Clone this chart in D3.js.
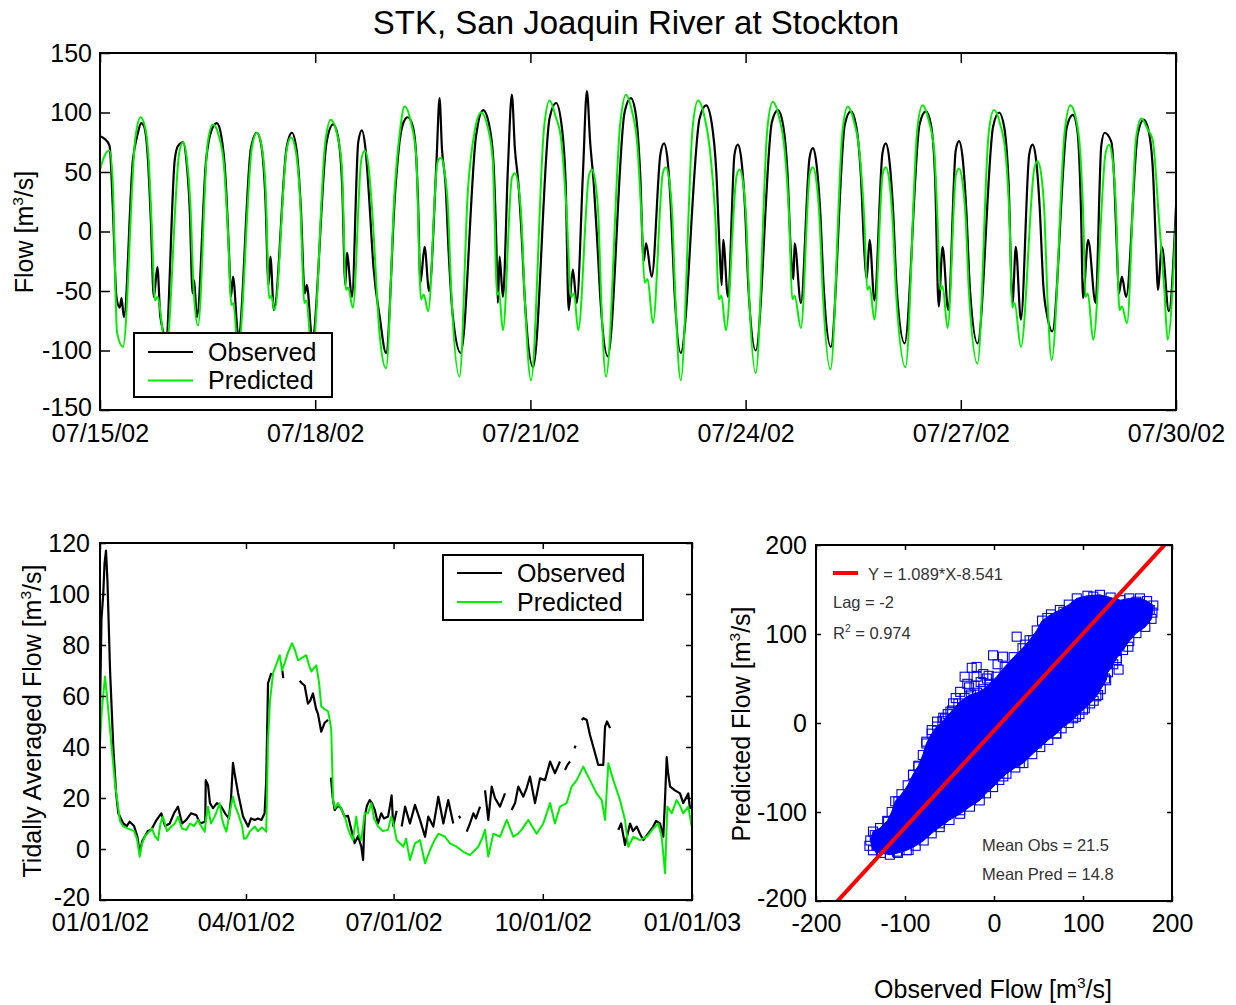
<!DOCTYPE html>
<html>
<head>
<meta charset="utf-8">
<script src="https://cdn.jsdelivr.net/npm/d3@7"></script>
<style>
  body { margin: 0; background: #fff; }
  svg text { font-family: "Liberation Sans", Arial, Helvetica, sans-serif; }
</style>
</head>
<body>
<svg id="fig" width="1236" height="1005"></svg>
<script>
// ---------------------------------------------------------------------------
// Data
// ---------------------------------------------------------------------------

// Hourly tidal flow, 07/15/02 - 07/30/02: [hours since 07/15/02 00:00, flow m3/s]
const observedTide = [
  [0,80],[1.5,78],[3.2,72],[4.3,20],[5.5,-55],[6.6,-64],[7.2,-56],[8.0,-72],
  [11.0,60],[12.6,82],[13.8,91],[14.8,88],[16.0,62],[17.0,10],[18.0,-55],[19.2,-30],[20.2,-72],[22.1,-88],
  [25.0,60],[26.1,72],[27.8,75],[28.9,60],[30.0,20],[31.0,-52],[31.5,-41],[32.4,-72],
  [35.5,60],[37.3,85],[39.1,91],[40.6,80],[42.0,45],[43.2,-20],[43.8,-55],[44.5,-38],[46.3,-88],
  [50.5,70],[52.5,83],[54.0,72],[55.3,30],[56.4,-45],[57.0,-21],[58.2,-66],
  [62.4,70],[64.2,83],[65.8,68],[67.2,20],[68.5,-52],[69.2,-45],[71.0,-90],
  [75.8,75],[78.0,90],[79.6,80],[81.0,40],[82.1,-45],[82.6,-18],[84.3,-55],
  [86.4,75],[87.6,85],[88.8,70],[90.0,30],[91.5,-30],[93.6,-72],[95.7,-102],
  [98.8,35],[100.3,77],[101.6,92],[103.0,96],[104.7,88],[105.8,63],[106.4,26],[107.2,-43],[108.6,-13],[110.1,-50],
  [112.6,60],[113.6,112],[114.4,70],[115.6,40],[116.7,-20],[118.0,-70],[120.7,-102],
  [125.8,80],[128.2,102],[130.0,92],[131.6,60],[132.6,-10],[133.1,-60],[133.7,-21],[134.8,-55],
  [136.5,55],[137.8,115],[138.8,70],[140.0,40],[141.0,0],[142.2,-60],[144.9,-114],
  [150.4,95],[152.6,108],[154.4,90],[155.8,40],[156.8,-66],[158.2,-32],[159.5,-60],
  [161.6,50],[162.9,118],[164.0,75],[165.2,40],[166.4,-10],[167.5,-60],[169.9,-105],
  [175.5,100],[177.6,112],[179.3,98],[180.7,50],[181.9,-25],[182.7,-10],[184.6,-38],
  [187.5,65],[188.7,74],[189.9,60],[191.0,20],[192.2,-50],[194.3,-102],
  [200.6,95],[202.8,106],[204.6,92],[206.2,50],[207.4,-20],[208.0,-45],[208.5,-7],[210.1,-55],
  [212.3,65],[213.4,73],[214.6,60],[215.8,20],[217.0,-50],[219.4,-100],
  [224.8,92],[226.8,102],[228.5,90],[230.0,50],[231.2,-20],[232.0,-40],[232.4,-10],[234.5,-60],
  [237.4,62],[238.5,70],[239.7,57],[240.9,20],[242.2,-50],[244.5,-97],
  [249.2,90],[251.2,101],[252.9,90],[254.5,50],[255.8,-20],[256.5,-40],[257.5,-7],[259.1,-58],
  [261.8,66],[262.9,74],[264.1,60],[265.3,20],[266.6,-50],[269.2,-94],
  [274.2,90],[276.3,101],[278.0,90],[279.4,45],[280.6,-63],[281.9,-13],[283.8,-66],
  [286.3,68],[287.4,76],[288.6,62],[289.8,20],[291.1,-50],[293.6,-94],
  [298.8,88],[300.8,100],[302.5,88],[304.0,40],[305.3,-60],[306.4,-13],[308.1,-74],
  [310.9,65],[312.0,73],[313.2,60],[314.4,20],[315.6,-45],[317.0,-72],[318.6,-84],
  [323.5,88],[325.5,98],[327.0,85],[328.2,20],[328.9,-56],[330.6,-7],[333.1,-60],
  [335.0,72],[336.1,83],[338.4,75],[339.4,40],[340.3,-20],[340.9,-52],[341.9,-38],[343.3,-55],
  [347.2,82],[349.2,94],[350.8,85],[352.3,50],[353.4,-20],[353.9,-49],[355.3,-13],[357.6,-67],[360,21]
];
const predictedTide = [
  [0,52],[1.6,64],[3.2,68],[4.3,40],[5.7,-85],[7.7,-97],
  [11.8,78],[13.6,96],[15.3,85],[16.3,60],[17.3,5],[18.4,-58],[19.2,-55],[22.1,-100],
  [26.5,66],[27.8,75],[29.0,62],[30.2,25],[31.4,-52],[32.8,-79],
  [36.0,74],[37.8,90],[39.8,80],[41.5,55],[42.8,0],[44.0,-62],[44.6,-60],[46.2,-100],
  [50.8,70],[52.5,83],[54.2,70],[55.5,30],[56.6,-56],[57.3,-54],[58.4,-66],
  [62.4,68],[63.9,79],[65.6,66],[67.0,25],[68.4,-60],[69.0,-58],[71.0,-104],
  [75.4,76],[77.2,94],[79.2,83],[80.9,55],[82.3,-49],[83.0,-47],[84.6,-64],
  [87.4,60],[88.6,68],[89.8,56],[91.0,20],[93.6,-88],[95.7,-115],
  [98.6,35],[100.3,83],[101.9,105],[104.1,91],[105.8,63],[107.4,-57],[108.3,-53],[109.8,-67],
  [112.9,58],[114.1,62],[115.3,50],[116.4,21],[117.5,-49],[120.3,-122],
  [123.1,35],[125.4,85],[127.5,100],[129.7,88],[131.4,60],[132.9,-53],[133.5,-51],[134.8,-83],
  [137.8,45],[138.8,49],[139.9,40],[141.0,10],[142.0,-50],[144.2,-125],
  [148.6,88],[150.4,110],[152.4,97],[154.3,77],[156.0,21],[157.7,-55],[158.6,-52],[160.0,-83],
  [163.6,47],[164.6,52],[165.7,42],[166.8,10],[167.6,-50],[169.3,-122],
  [174.1,92],[175.9,115],[178.0,101],[179.8,72],[181.2,10],[182.2,-43],[183.2,-40],[185.0,-77],
  [188.3,49],[189.3,54],[190.4,44],[191.5,12],[192.4,-50],[194.3,-125],
  [198.3,88],[200.1,110],[202.2,97],[204.0,70],[205.9,10],[207.1,-57],[207.9,-54],[209.4,-83],
  [213.0,47],[214.0,52],[215.1,42],[216.2,10],[217.1,-50],[219.4,-119],
  [223.3,87],[225.1,109],[227.2,96],[229.0,70],[230.6,10],[231.6,-57],[232.4,-54],[234.5,-81],
  [237.5,49],[238.5,54],[239.6,44],[240.7,12],[241.8,-50],[244.4,-116],
  [248.4,84],[250.2,105],[252.3,92],[254.1,67],[255.7,10],[256.7,-49],[257.5,-46],[259.1,-74],
  [261.9,49],[262.9,54],[264.0,44],[265.1,12],[266.3,-50],[269.5,-114],
  [273.4,85],[275.2,106],[277.3,93],[279.1,68],[280.2,10],[281.1,-49],[281.9,-46],[283.6,-81],
  [286.4,48],[287.4,53],[288.5,43],[289.6,12],[290.7,-50],[293.6,-111],
  [297.3,82],[299.1,102],[301.2,90],[303.0,65],[304.3,10],[305.2,-64],[306.0,-60],[308.1,-97],
  [312.6,53],[313.7,59],[314.9,48],[316.0,14],[316.9,-50],[318.4,-108],
  [322.8,85],[324.6,106],[326.7,93],[328.0,65],[329.0,10],[329.7,-55],[330.5,-52],[332.3,-91],
  [336.4,65],[337.6,73],[338.8,60],[339.9,20],[341.1,-66],[341.9,-63],[343.6,-77],
  [346.6,78],[348.4,95],[350.5,86],[352.2,77],[354.4,7],[356.1,-49],[357.2,-91],[360,12]
];
const tideTicks = ["2002-07-15","2002-07-18","2002-07-21","2002-07-24","2002-07-27","2002-07-30"];
const tideFlowTicks = [-150,-100,-50,0,50,100,150];

// Tidally averaged flow for 2002: [day of year (0 = Jan 1), flow m3/s]; null marks missing record
const observedDaily = [
  [0,55],[0.9,90],[2.0,100],[2.8,112],[3.7,117],[4.6,105],[6.2,70],[8.2,40],[9.9,22],[11.3,14],
  [14.4,10],[16.5,9],[18.3,10.7],[21,9],[23,5],[24.5,-1.6],[26,3],[27.7,5],[29.5,7],[31.6,7.5],
  [34.5,11],[37.8,14],[40.1,9],[43,10],[45.6,14],[48.1,16.6],[50.6,10],[53.2,11.4],[56.1,14],
  [59.4,13.3],[61.7,10],[64.6,10.7],[64.9,11],[65.2,27],[66.6,25],[67.8,18],[69.7,16],[72.1,18],
  [74.8,16.6],[77.1,14],[79.5,12],[80.8,20],[82,33.8],[82.9,30],[85.1,22],[88.2,12.7],[91.3,8.8],
  [93.1,12],[95.4,11.4],[97.4,12],[99.5,11.4],[101.5,14],[102.5,27],[103.6,65],[105.6,69],null,
  [112.4,70],[113,67],null,
  [123.1,66],[124.5,65],[126.2,64],[128.2,57],[129.5,58],[131.3,61],[133.2,55],[134.4,53],
  [136.4,46],[138.5,49.5],[140.6,50.6],null,
  [142.4,28],[143.5,20],[144.7,15.3],[146.7,17],[148.6,16],[150.9,12.7],[152.9,13],[154.8,8],
  [157,2.3],[159.1,5],[161.1,0.9],[162.2,-4.3],[163.2,12.7],[164.6,17],[166.3,19.2],[167.7,18],
  [169.4,15.3],[171.4,10],[173.4,14],[175.1,12],[177.6,12.7],[178.8,17],[179.8,21],[180.8,9],
  [182.9,15],null,
  [186,8.8],[188.1,16.6],[191.1,10],[194.2,17.3],[197.3,11.4],[200.4,4.8],[202.4,12.7],[205.5,8.8],
  [208.6,20.5],[211.7,10],[214.7,19.2],[217.8,10],null,
  [221.3,13],[222.2,12],null,
  [226.1,6.8],[228.1,10],[230.2,14],[231.8,12],[234.3,16.6],null,
  [237.4,23],[239.4,11.4],[241.5,24.5],[243.5,20],[246.6,16.6],[249.7,21.8],null,
  [253.8,15.3],[255.9,18],[257.9,24.5],[261,20.5],[263.1,24],[265.1,28.4],[268.2,18],[271.3,27.7],
  [274.4,27],[277.5,34.3],[280.5,29.7],[283.6,34.3],null,
  [286.7,31],[288.2,33],[289.8,34.3],null,
  [292.6,39.5],[293.2,40.5],null,
  [297,50.6],[298,51.3],[300.1,50.6],[302.1,44.7],[304.6,39],[307.2,33],[308.9,33],[310.3,33],
  [311.4,48],[312.6,50],[314.5,47.4],null,
  [319.6,7.5],[321.3,10],[323.7,1.6],[326.8,10],[328.6,7],[330.9,8.8],[332.9,6],[335,3.5],
  [337.9,6],[341.1,8.8],[342.8,11],[345.3,10],[347.3,4.8],[348.4,20],[349.4,36],[350.2,30],
  [351.5,24.5],[354.5,23],[357.6,21.8],[359.6,18],[362.7,21.8],[363.7,16],[364.8,16.6]
];
const predictedDaily = [
  [0,41.5],[1.2,55],[3.1,67.6],[4.3,60],[6.2,46.7],[9.2,26],[12.3,11],[14.2,9],[17.3,8],[19.3,7.5],
  [21,7],[22.8,4],[24.5,-3],[25.9,2],[27.7,5],[29.6,6.3],[32.1,8],[33.9,5],[35.8,3.5],[37.3,10],
  [38.8,12.7],[41.3,7],[44,8.8],[46.2,10],[48.1,12.7],[50.6,8],[53.2,7.5],[55.5,10],[58,9],
  [60.4,11.4],[62.3,9],[64.6,6.8],[65.4,12],[66.6,16.6],[68.4,10],[70.7,12.7],[72.1,15],
  [73.8,18],[75.2,12],[76.5,9],[77.9,6.8],[80.2,15],[82,20.5],[83.2,17],[85.1,14],[87.6,9],
  [88.8,4],[90.2,4.2],[92.5,7],[95.4,8.8],[97.4,7],[99.9,8.5],[102.5,6.8],[103.6,42.8],[104.8,58],
  [106.7,69],[108.5,72],[110.8,76],[112.2,70],[113.9,73],[115.9,77],[118.4,80.7],[120.2,78],
  [122.1,74],[124.5,75],[127.2,76],[128.9,72],[130.3,69.6],[132,71],[133.4,72],[135.1,65],
  [136.4,56],[138.1,55],[140.6,54],[141.8,50],[142.6,46.7],[143.7,19],[144.9,16],[146.7,18],
  [148.6,16],[150.9,12.7],[152.9,8],[154.1,6],[155.9,3.5],[158,12.7],[159.4,6],[161.1,3.5],
  [163.2,14],[165.2,14],[167.3,18],[168.9,12],[171.4,8.8],[174.5,7],[177.6,7.5],[179.6,12.7],
  [180.9,10],[182.9,3.5],[187,0.9],[188.7,4],[191.1,-4.3],[194.2,2.2],[197.3,3.5],[200.4,-5.6],
  [203.5,-0.4],[205.9,3],[208.6,6],[212.7,4.8],[215.8,2.2],[219.9,0.9],[223.8,-1],[228.1,-2.4],
  [233.2,0.9],[235.5,4],[237.4,7.5],[239.4,-3],[242.5,6],[246.6,4.8],[250.8,11.4],[254.8,4.8],
  [257.7,6],[259.9,7.5],[264.1,11.4],[269.2,6],[273.3,10],[277.5,18],[280.5,10],[283.6,16.6],
  [287.7,18],[290.8,24.5],[293.9,27],[298,32.3],[299.7,30],[302.1,27],[306.2,21.8],[309.3,19.2],
  [311.4,11.4],[313.4,33.6],[316.5,27],[320.6,19.2],[323.7,11.4],[325.7,0.9],[328.8,4.8],
  [332.9,3.5],[337.1,4.8],[341.1,8],[344.2,10],[346.3,4.8],[348.4,-9.5],[349.8,16.6],[352.5,14],
  [355.5,19.2],[357.6,17],[359.6,14],[362.7,16.6],[364.8,8.8]
];
const dailyTicks = ["2002-01-01","2002-04-01","2002-07-01","2002-10-01","2003-01-01"];
const dailyFlowTicks = [-20,0,20,40,60,80,100,120];

// Observed vs predicted scatter, [observed, predicted] in m3/s.
// Outline of the densely packed core of the cloud:
const scatterCore = [
  [-139,-132],[-136,-122],[-128,-118],[-120,-110],[-115,-100],[-111,-88],[-104,-80],[-97,-70],
  [-91,-58],[-85,-48],[-80,-36],[-76,-23],[-70,-12],[-64,-4],[-55,5],[-47,14],[-40,22],[-33,28],
  [-26,32],[-19,34],[-12,38],[-5,44],[3,52],[12,63],[22,74],[32,84],[40,93],[48,104],[54,115],
  [64,122],[74,127],[84,133],[93,140],[105,143],[119,144],[131,141],[142,138],[152,140],[164,140],
  [172,137],[179,132],[178,124],[177,117],[170,108],[160,101],[152,92],[145,82],[138,73],[134,66],
  [128,57],[126,48],[120,38],[115,30],[108,22],[100,15],[92,7],[84,0],[76,-6],[70,-12],[61,-19],
  [52,-27],[43,-35],[33,-45],[24,-50],[14,-57],[6,-64],[-1,-72],[-9,-79],[-16,-87],[-27,-94],
  [-38,-102],[-50,-109],[-61,-117],[-70,-124],[-79,-132],[-88,-138],[-98,-143],[-108,-146],
  [-117,-148],[-127,-146],[-136,-143]
];
// Individual samples lying off the core:
const scatterOutliers = [
  [25.5,97],[44,93],[-1,76],[10,74.5],[-19.5,63],[-33,52],[-38,35],[-19.5,52],[-12,55],[-46,22],
  [-49,12.7],[-64,1.5],[-70,-8],[-76,-21],[-85,-49],[-91,-58.4],[-107.5,-88],[-119,-111],
  [-134,-126],[-132,-137],[-109,-144.6],[-96,-142.7],[89,5.3],[102,16.5],[117,31.5],[124.7,50],
  [138,70.8],[128,67],[151,85.7],[70,-11.6],[48,-23],[29,-45],[10.5,-60],[-16,-79],[-38,-98],
  [-61,-112.7],[111.6,142],[160,136.3],[175,127],[78,125],[-28,40],[-43,28],[-57,6],[35,88],
  [60,118],[140,60],[112,25],[96,10],[-128,-140],[-140,-138],[-25,62],[-6,53],[4,66],
  [-30,44],[-22,42],[-15,46],[-8,50],[-52,10],[-58,2]
];
const scatterTicks = [-200,-100,0,100,200];
// Regression reported for the scatter
const fitSlope = 1.089;
const fitIntercept = -8.541;
const fitLag = -2;
const fitR2 = 0.974;
const meanObserved = 21.5;
const meanPredicted = 14.8;

// ---------------------------------------------------------------------------
// Drawing
// ---------------------------------------------------------------------------
const svg = d3.select("#fig");
const BLACK = "#000";
const GREEN = "#00ee00";
const BLUE = "#0000ff";
const RED = "#ff0000";
const FS = 25;            // axis / legend text size
const fmtNum = d => String(d);

function styleAxis(sel) {
  sel.attr("font-size", null).attr("font-family", null);
  sel.select(".domain").remove();
  sel.selectAll(".tick line").attr("stroke", BLACK).attr("stroke-width", 1.5);
  sel.selectAll(".tick text").attr("fill", BLACK).style("font-size", FS + "px");
}

// Boxed axes with inward ticks mirrored on all four sides
function frame(g, x, y, xTicks, yTicks, xFmt, tick, padX, padY) {
  const w = x.range()[1], h = y.range()[0];
  g.append("g").attr("transform", `translate(0,${h})`)
    .call(d3.axisBottom(x).tickValues(xTicks).tickFormat(xFmt)
      .tickSizeInner(-tick).tickSizeOuter(0).tickPadding(padX))
    .call(styleAxis);
  g.append("g")
    .call(d3.axisTop(x).tickValues(xTicks).tickFormat("")
      .tickSizeInner(-tick).tickSizeOuter(0))
    .call(styleAxis);
  const left = g.append("g")
    .call(d3.axisLeft(y).tickValues(yTicks).tickFormat(fmtNum)
      .tickSizeInner(-tick).tickSizeOuter(0).tickPadding(padY))
    .call(styleAxis);
  // lowest value label sits just above the corner date label
  left.selectAll(".tick text").filter(d => d === yTicks[0]).attr("dy", "0.2em");
  g.append("g").attr("transform", `translate(${w},0)`)
    .call(d3.axisRight(y).tickValues(yTicks).tickFormat("")
      .tickSizeInner(-tick).tickSizeOuter(0))
    .call(styleAxis);
  g.append("rect").attr("width", w).attr("height", h)
    .attr("fill", "none").attr("stroke", BLACK).attr("stroke-width", 2);
}

function clip(g, id, w, h) {
  g.append("clipPath").attr("id", id)
    .append("rect").attr("width", w).attr("height", h);
  return g.append("g").attr("clip-path", `url(#${id})`);
}

// Text with a superscript part: [before, sup, after]
function supText(sel, parts, size) {
  sel.append("tspan").text(parts[0]);
  sel.append("tspan").text(parts[1]).attr("dy", -size * 0.42).style("font-size", (size * 0.62) + "px");
  sel.append("tspan").text(parts[2]).attr("dy", size * 0.42);
  return sel;
}

function legend(g, x0, y0, w, h, rows) {
  g.append("rect").attr("x", x0).attr("y", y0).attr("width", w).attr("height", h)
    .attr("fill", "#fff").attr("stroke", BLACK).attr("stroke-width", 2);
  rows.forEach(r => {
    g.append("line").attr("x1", x0 + 14).attr("x2", x0 + 59).attr("y1", y0 + r.dy).attr("y2", y0 + r.dy)
      .attr("stroke", r.color).attr("stroke-width", 2);
    g.append("text").attr("x", x0 + 74).attr("y", y0 + r.dy + 8.5)
      .style("font-size", FS + "px").text(r.label);
  });
}

// Title
svg.append("text").attr("x", 636).attr("y", 34).attr("text-anchor", "middle")
  .style("font-size", "33px").text("STK, San Joaquin River at Stockton");

// ---- Panel 1: instantaneous tidal flow ----
{
  const w = 1076, h = 357;
  const g = svg.append("g").attr("transform", "translate(100,53)");
  const t0 = Date.UTC(2002, 6, 15);
  const x = d3.scaleUtc().domain([new Date(t0), new Date(Date.UTC(2002, 6, 30))]).range([0, w]);
  const y = d3.scaleLinear().domain([-150, 150]).range([h, 0]);
  const toPts = arr => arr.map(([hr, v]) => ({ t: new Date(t0 + hr * 3600e3), v }));
  const line = d3.line().x(d => x(d.t)).y(d => y(d.v)).curve(d3.curveMonotoneX);
  const body = clip(g, "clipTide", w, h);
  body.append("path").attr("d", line(toPts(observedTide)))
    .attr("fill", "none").attr("stroke", BLACK).attr("stroke-width", 2.2).attr("stroke-linejoin", "round");
  body.append("path").attr("d", line(toPts(predictedTide)))
    .attr("fill", "none").attr("stroke", GREEN).attr("stroke-width", 2).attr("stroke-linejoin", "round");
  legend(g, 34, 280, 198, 64, [
    { label: "Observed", color: BLACK, dy: 19 },
    { label: "Predicted", color: GREEN, dy: 47.5 }
  ]);
  frame(g, x, y, tideTicks.map(s => new Date(s + "T00:00:00Z")), tideFlowTicks,
    d3.utcFormat("%m/%d/%y"), 10, 14, 8);
  supText(svg.append("text").attr("transform", "translate(33,232) rotate(-90)")
    .attr("text-anchor", "middle").style("font-size", FS + "px"), ["Flow [m", "3", "/s]"], FS);
}

// ---- Panel 2: tidally averaged flow ----
{
  const w = 592, h = 357;
  const g = svg.append("g").attr("transform", "translate(100,543)");
  const d0 = Date.UTC(2002, 0, 1);
  const x = d3.scaleUtc().domain([new Date(d0), new Date(Date.UTC(2003, 0, 1))]).range([0, w]);
  const y = d3.scaleLinear().domain([-20, 120]).range([h, 0]);
  const toPts = arr => arr.map(p => p === null ? null : { t: new Date(d0 + p[0] * 864e5), v: p[1] });
  const line = d3.line().defined(d => d !== null).x(d => x(d.t)).y(d => y(d.v));
  const body = clip(g, "clipDaily", w, h);
  body.append("path").attr("d", line(toPts(observedDaily)))
    .attr("fill", "none").attr("stroke", BLACK).attr("stroke-width", 2.2).attr("stroke-linejoin", "round");
  body.append("path").attr("d", line(toPts(predictedDaily)))
    .attr("fill", "none").attr("stroke", GREEN).attr("stroke-width", 2).attr("stroke-linejoin", "round");
  legend(g, 343, 12, 200, 65, [
    { label: "Observed", color: BLACK, dy: 18 },
    { label: "Predicted", color: GREEN, dy: 47 }
  ]);
  frame(g, x, y, dailyTicks.map(s => new Date(s + "T00:00:00Z")), dailyFlowTicks,
    d3.utcFormat("%m/%d/%y"), 6, 13, 10);
  supText(svg.append("text").attr("transform", "translate(41,721) rotate(-90)")
    .attr("text-anchor", "middle").style("font-size", FS + "px"),
    ["Tidally Averaged Flow [m", "3", "/s]"], FS);
}

// ---- Panel 3: observed vs predicted scatter ----
{
  const w = 356, h = 356;
  const g = svg.append("g").attr("transform", "translate(816,545)");
  const x = d3.scaleLinear().domain([-200, 200]).range([0, w]);
  const y = d3.scaleLinear().domain([-200, 200]).range([h, 0]);
  const body = clip(g, "clipScatter", w, h);
  const sq = 9;

  body.append("path")
    .attr("d", d3.line().x(d => x(d[0])).y(d => y(d[1])).curve(d3.curveLinearClosed)(scatterCore))
    .attr("fill", BLUE).attr("stroke", BLUE).attr("stroke-width", 1);
  body.selectAll("rect.sample").data(scatterCore.concat(scatterOutliers)).join("rect")
    .attr("class", "sample")
    .attr("x", d => x(d[0]) - sq / 2).attr("y", d => y(d[1]) - sq / 2)
    .attr("width", sq).attr("height", sq)
    .attr("fill", "none").attr("stroke", BLUE).attr("stroke-width", 1.1);

  const fitX = [-200, 200];
  body.append("line")
    .attr("x1", x(fitX[0])).attr("y1", y(fitSlope * fitX[0] + fitIntercept))
    .attr("x2", x(fitX[1])).attr("y2", y(fitSlope * fitX[1] + fitIntercept))
    .attr("stroke", RED).attr("stroke-width", 4);

  frame(g, x, y, scatterTicks, scatterTicks, fmtNum, 5, 13, 9);

  const note = "#333";
  const NS = "16.5px";
  g.append("line").attr("x1", 17).attr("x2", 42).attr("y1", 28).attr("y2", 28)
    .attr("stroke", RED).attr("stroke-width", 4);
  g.append("text").attr("x", 52).attr("y", 34.5).attr("fill", note).style("font-size", NS)
    .text(`Y = ${fitSlope}*X${fitIntercept}`);
  g.append("text").attr("x", 17).attr("y", 62.5).attr("fill", note).style("font-size", NS)
    .text(`Lag = ${fitLag}`);
  supText(g.append("text").attr("x", 17).attr("y", 93.5).attr("fill", note).style("font-size", NS),
    ["R", "2", ` = ${fitR2}`], 16.5);
  g.append("text").attr("x", 166).attr("y", 306).attr("fill", note).style("font-size", NS)
    .text(`Mean Obs = ${meanObserved}`);
  g.append("text").attr("x", 166).attr("y", 334.5).attr("fill", note).style("font-size", NS)
    .text(`Mean Pred = ${meanPredicted}`);

  supText(svg.append("text").attr("transform", "translate(750,724) rotate(-90)")
    .attr("text-anchor", "middle").style("font-size", FS + "px"), ["Predicted Flow [m", "3", "/s]"], FS);
  supText(svg.append("text").attr("x", 993).attr("y", 998)
    .attr("text-anchor", "middle").style("font-size", FS + "px"), ["Observed Flow [m", "3", "/s]"], FS);
}
</script>
</body>
</html>
